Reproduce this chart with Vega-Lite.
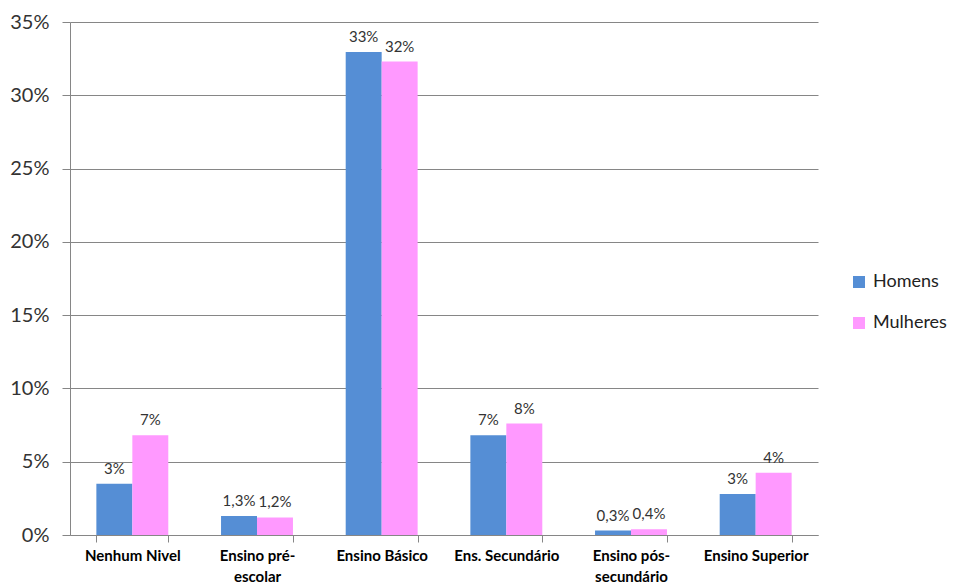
{
  "$schema": "https://vega.github.io/schema/vega-lite/v6.json",
  "width": 748,
  "height": 513,
  "autosize": {"type": "none"},
  "padding": {"left": 70, "top": 22, "right": 140, "bottom": 49},
  "background": "white",
  "config": {"view": {"stroke": null}, "font": "Lato"},
  "data": {
    "values": [
      {"nivel": "Nenhum Nivel", "sexo": "Homens", "valor": 3.5, "rotulo": "3%"},
      {"nivel": "Nenhum Nivel", "sexo": "Mulheres", "valor": 6.8, "rotulo": "7%"},
      {"nivel": "Ensino pré-escolar", "sexo": "Homens", "valor": 1.3, "rotulo": "1,3%"},
      {"nivel": "Ensino pré-escolar", "sexo": "Mulheres", "valor": 1.2, "rotulo": "1,2%"},
      {"nivel": "Ensino Básico", "sexo": "Homens", "valor": 32.95, "rotulo": "33%"},
      {"nivel": "Ensino Básico", "sexo": "Mulheres", "valor": 32.3, "rotulo": "32%"},
      {"nivel": "Ens. Secundário", "sexo": "Homens", "valor": 6.8, "rotulo": "7%"},
      {"nivel": "Ens. Secundário", "sexo": "Mulheres", "valor": 7.6, "rotulo": "8%"},
      {"nivel": "Ensino pós-secundário", "sexo": "Homens", "valor": 0.3, "rotulo": "0,3%"},
      {"nivel": "Ensino pós-secundário", "sexo": "Mulheres", "valor": 0.4, "rotulo": "0,4%"},
      {"nivel": "Ensino Superior", "sexo": "Homens", "valor": 2.8, "rotulo": "3%"},
      {"nivel": "Ensino Superior", "sexo": "Mulheres", "valor": 4.25, "rotulo": "4%"}
    ]
  },
  "encoding": {
    "x": {
      "field": "nivel",
      "type": "nominal",
      "sort": null,
      "scale": {"paddingInner": 0.423, "paddingOuter": 0.2115},
      "axis": {
        "title": null,
        "labelAngle": 0,
        "labelFont": "Lato",
        "labelFontWeight": "bold",
        "labelFontSize": 15,
        "labelColor": "#000000",
        "labelPadding": 6,
        "labelLineHeight": 21,
        "labelExpr": "datum.label == 'Ensino pré-escolar' ? ['Ensino pré-', 'escolar'] : datum.label == 'Ensino pós-secundário' ? ['Ensino pós-', 'secundário'] : datum.label",
        "tickBand": "extent",
        "tickSize": 7,
        "tickColor": "#868686",
        "domainColor": "#868686",
        "grid": false
      }
    },
    "xOffset": {"field": "sexo", "type": "nominal", "scale": {"paddingInner": 0, "paddingOuter": 0}},
    "y": {
      "field": "valor",
      "type": "quantitative",
      "scale": {"domain": [0, 35], "nice": false},
      "axis": {
        "title": null,
        "values": [0, 5, 10, 15, 20, 25, 30, 35],
        "labelExpr": "datum.value + '%'",
        "labelFont": "Lato",
        "labelFontSize": 20,
        "labelColor": "#333333",
        "labelPadding": 13,
        "tickSize": 8,
        "tickColor": "#868686",
        "domainColor": "#868686",
        "gridColor": "#868686",
        "grid": true
      }
    }
  },
  "layer": [
    {
      "mark": {"type": "bar"},
      "encoding": {
        "color": {
          "field": "sexo",
          "type": "nominal",
          "scale": {"domain": ["Homens", "Mulheres"], "range": ["#558ED5", "#FF99FF"]},
          "legend": {
            "title": null,
            "orient": "none",
            "legendX": 775,
            "legendY": 246,
            "padding": 5,
            "symbolType": "square",
            "symbolSize": 144,
            "symbolStrokeWidth": 0,
            "labelFont": "Lato",
            "labelFontSize": 18,
            "labelColor": "#222222",
            "rowPadding": 23,
            "labelOffset": 5
          }
        }
      }
    },
    {
      "mark": {"type": "text", "baseline": "bottom", "dy": -7, "fontSize": 15, "font": "Lato", "color": "#333333"},
      "encoding": {"text": {"field": "rotulo"}}
    }
  ]
}
